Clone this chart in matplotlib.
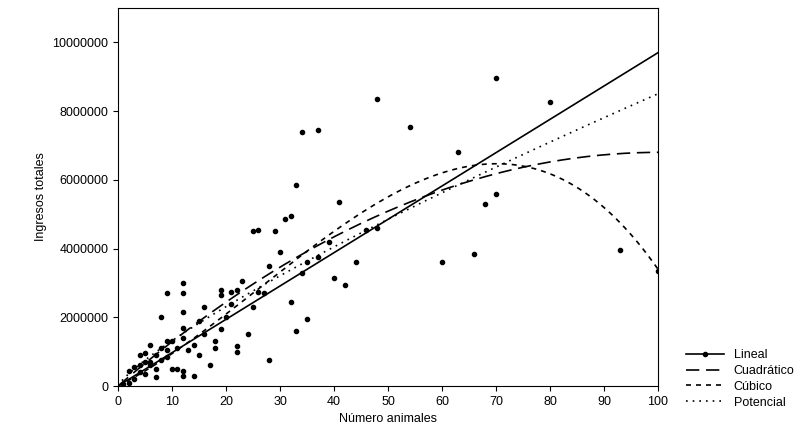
import numpy as np
import matplotlib.pyplot as plt
from matplotlib.lines import Line2D

plt.rcParams['font.family'] = ['Liberation Sans', 'DejaVu Sans']

# observed points (animals, income in millions)
animals = [48, 70, 80, 54, 34, 37, 33, 63, 41, 26, 25, 29, 31, 32, 48, 46, 60, 66, 68, 70,
           93, 100, 39, 37, 35, 34, 40, 42, 44, 32, 33, 35, 28, 27, 26, 25, 23, 22, 21, 21,
           22, 22, 19, 19, 16, 18, 18, 19, 17, 15, 13, 12, 12, 12, 12, 12, 12, 12, 11, 11,
           9, 9, 9, 9, 8, 8, 7, 7, 6, 6, 5, 5, 5, 4, 4, 3, 2, 2, 1, 6,
           10, 10, 14, 15, 20, 28, 30, 24, 14, 16, 8, 3, 4, 7]
income_m = [8.35, 8.95, 8.25, 7.55, 7.4, 7.45, 5.85, 6.8, 5.35, 4.55, 4.5, 4.5, 4.85, 4.95, 4.6, 4.55, 3.6, 3.85, 5.3, 5.6,
            3.95, 3.35, 4.2, 3.75, 3.6, 3.3, 3.15, 2.95, 3.6, 2.45, 1.6, 1.95, 0.75, 2.7, 2.75, 2.3, 3.05, 2.8, 2.75, 2.4,
            1.0, 1.15, 2.8, 2.65, 2.3, 1.3, 1.1, 1.65, 0.6, 0.9, 1.05, 3.0, 2.7, 2.15, 1.7, 1.4, 0.45, 0.3, 0.5, 1.1,
            2.7, 1.3, 1.05, 0.85, 2.0, 0.75, 0.5, 0.25, 1.2, 0.6, 0.35, 0.95, 0.7, 0.6, 0.4, 0.2, 0.45, 0.1, 0.05, 0.7,
            1.3, 0.5, 0.3, 1.9, 2.0, 3.5, 3.9, 1.5, 1.2, 1.5, 1.1, 0.55, 0.9, 0.9]

# fitted model coefficients
lin_b = 97000
quad_a, quad_b = 135500, -675
cub_a, cub_b, cub_c = 79684, 1672, -21.29
pow_a, pow_b = 204000, 0.81

x = np.linspace(0, 100, 300)

fig = plt.figure(figsize=(8.1, 4.44), dpi=100)
ax = fig.add_axes([118/810, 1 - 386/444, 540/810, 378/444])

ax.scatter(animals, np.array(income_m) * 1e6, s=9, color='black', zorder=3)
ax.plot(x, lin_b * x, color='black', lw=1.2)
ax.plot(x, quad_a * x + quad_b * x**2, color='black', lw=1.2, dashes=(8, 4))
ax.plot(x, cub_a * x + cub_b * x**2 + cub_c * x**3, color='black', lw=1.2, dashes=(3, 3))
ax.plot(x, pow_a * x**pow_b, color='black', lw=1.2, dashes=(1, 3))

ax.set_xlim(0, 100)
ax.set_ylim(0, 11e6)
ax.set_xticks(range(0, 101, 10))
ax.set_yticks(range(0, 10000001, 2000000))
ax.set_yticklabels([str(v) for v in range(0, 10000001, 2000000)])
ax.tick_params(labelsize=9)
ax.set_xlabel('Número animales', fontsize=9)
ax.set_ylabel('Ingresos totales', fontsize=9)

handles = [Line2D([], [], color='black', lw=1.2, marker='o', markersize=3, markevery=[1]),
           Line2D([], [], color='black', lw=1.2, dashes=(8, 4)),
           Line2D([], [], color='black', lw=1.2, dashes=(3, 3)),
           Line2D([], [], color='black', lw=1.2, dashes=(1, 3))]
fig.legend(handles, ['Lineal', 'Cuadrático', 'Cúbico', 'Potencial'],
           loc='upper left', bbox_to_anchor=(675/810, 1 - 338/444), frameon=False,
           fontsize=9, handlelength=3, labelspacing=0.3)

fig.savefig('out.png', dpi=100)
